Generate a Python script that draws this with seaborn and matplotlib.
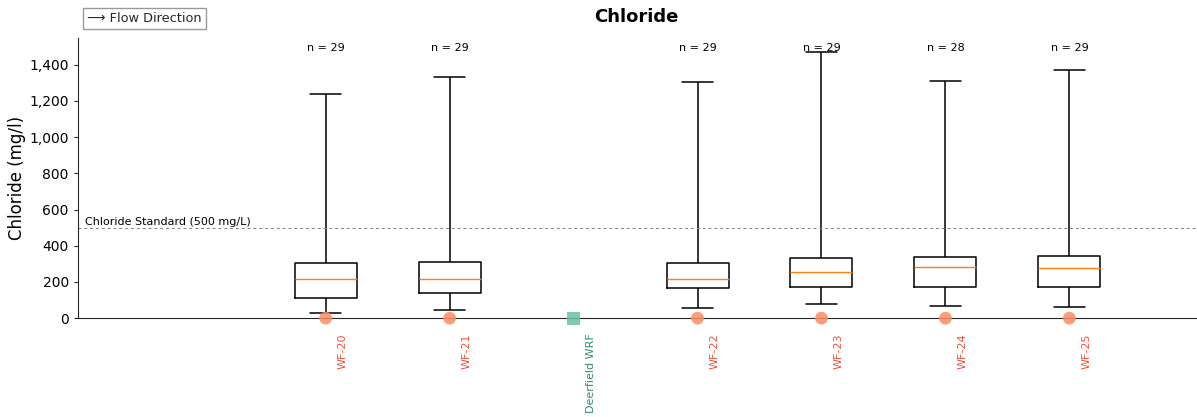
import matplotlib
matplotlib.use('Agg')
import matplotlib.pyplot as plt
import matplotlib.ticker as mticker
import matplotlib.transforms as mtransforms
from matplotlib.lines import Line2D
import pandas as pd
import seaborn as sns

# Sites in flow order (Deerfield WRF has no chloride samples)
sites = ['WF-20', 'WF-21', 'Deerfield WRF', 'WF-22', 'WF-23', 'WF-24', 'WF-25']
site_types = ['well', 'well', 'wrf', 'well', 'well', 'well', 'well']
n_samples = [29, 29, None, 29, 29, 28, 29]

# Five-number summaries (mg/l)
mins = [31, 46, None, 54, 76, 66, 59]
q1s = [114, 138, None, 166, 172, 172, 172]
medians = [216, 216, None, 219, 253, 282, 275]
q3s = [302, 308, None, 306, 330, 336, 341]
maxs = [1240, 1330, None, 1302, 1472, 1312, 1371]

standard = 500

# Long-form table for seaborn, one row per summary value
rows = []
for i, s in enumerate(sites):
    if mins[i] is None:
        continue
    for v in [mins[i], q1s[i], medians[i], q3s[i], maxs[i]]:
        rows.append({'site': s, 'chloride': v})
df = pd.DataFrame(rows)

sns.set_style('white')
plt.rcParams['font.family'] = ['DejaVu Sans']

fig, ax = plt.subplots(figsize=(11.97, 4.17), dpi=100)
fig.subplots_adjust(left=0.065, right=0.999, top=0.91, bottom=0.237)

sns.boxplot(data=df, x='site', y='chloride', order=sites, whis=(0, 100),
            width=0.5, fill=False, color='black', linewidth=1.1,
            medianprops={'color': '#ff7f0e', 'linewidth': 1},
            showfliers=False, ax=ax)

# Site markers on the zero line
marker_colors = {'well': '#fc8d62', 'wrf': '#66c2a5'}
marker_shapes = {'well': 'o', 'wrf': 's'}
label_colors = {'well': '#f0503a', 'wrf': '#2e8b6e'}
for i, t in enumerate(site_types):
    ax.scatter([i], [0], marker=marker_shapes[t], s=85, color=marker_colors[t],
               alpha=0.85, clip_on=False, zorder=5, edgecolor='none')

# n labels above each box
for i, n in enumerate(n_samples):
    if n is not None:
        ax.text(i, 1490, f'n = {n}', ha='center', va='center', fontsize=8,
                color='black')

# Chloride standard line
ax.axhline(standard, color='gray', linestyle='--', linewidth=0.7, dashes=(3, 3))
ax.text(-1.94, standard + 5, 'Chloride Standard (500 mg/L)', fontsize=8,
        ha='left', va='bottom', color='black')

ax.set_xlim(-2, 7.02)
ax.set_ylim(0, 1550)
ax.yaxis.set_major_locator(mticker.MultipleLocator(200))
ax.yaxis.set_major_formatter(mticker.StrMethodFormatter('{x:,.0f}'))
ax.tick_params(axis='y', labelsize=10, length=3, left=True, labelcolor='black')
ax.tick_params(axis='x', length=0, labelsize=8, pad=11)

ax.set_xticks(range(len(sites)))
ax.set_xticklabels(sites, rotation=90, va='top')
offset = mtransforms.ScaledTranslation(17 / 100, 0, fig.dpi_scale_trans)
for lab, t in zip(ax.get_xticklabels(), site_types):
    lab.set_color(label_colors[t])
    lab.set_transform(lab.get_transform() + offset)

ax.set_xlabel('')
ax.set_ylabel('Chloride (mg/l)', fontsize=12, color='black', labelpad=2)
ax.set_title('Chloride', fontsize=13, fontweight='bold', pad=11, color='black')
sns.despine(ax=ax)

handle = Line2D([], [], linestyle='none')
ax.legend([handle], ['\u27f6 Flow Direction'], loc='lower left',
          bbox_to_anchor=(0.005, 1.03), handlelength=0, handletextpad=0,
          fontsize=9.3, frameon=True, fancybox=False, edgecolor='gray',
          borderpad=0.3, borderaxespad=0)

plt.savefig('out.png', dpi=100)
